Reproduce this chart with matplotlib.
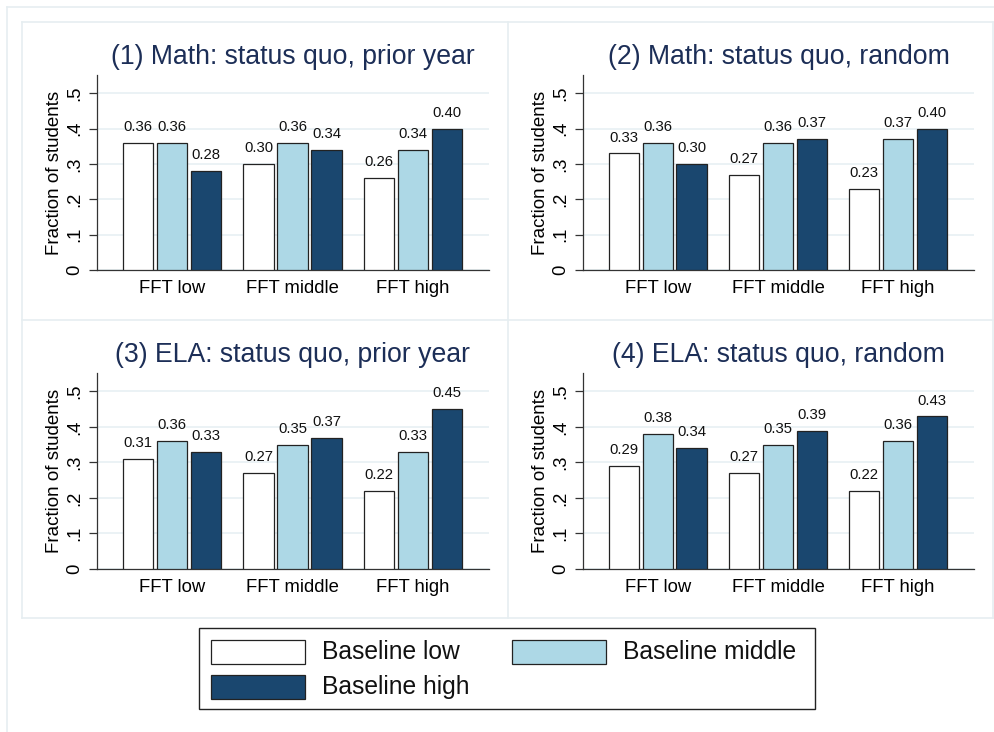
import numpy as np
import matplotlib
matplotlib.use("Agg")
import matplotlib.pyplot as plt
from matplotlib.patches import Rectangle
from matplotlib.lines import Line2D

plt.rcParams['font.family'] = ['Liberation Sans', 'DejaVu Sans']

# data: each list holds the three FFT groups (low, middle, high)
fft_groups = ["FFT low", "FFT middle", "FFT high"]
series_names = ["Baseline low", "Baseline middle", "Baseline high"]

titles = ["(1) Math: status quo, prior year",
          "(2) Math: status quo, random",
          "(3) ELA: status quo, prior year",
          "(4) ELA: status quo, random"]

math_prior_low = [0.36, 0.30, 0.26]
math_prior_mid = [0.36, 0.36, 0.34]
math_prior_high = [0.28, 0.34, 0.40]

math_random_low = [0.33, 0.27, 0.23]
math_random_mid = [0.36, 0.36, 0.37]
math_random_high = [0.30, 0.37, 0.40]

ela_prior_low = [0.31, 0.27, 0.22]
ela_prior_mid = [0.36, 0.35, 0.33]
ela_prior_high = [0.33, 0.37, 0.45]

ela_random_low = [0.29, 0.27, 0.22]
ela_random_mid = [0.38, 0.35, 0.36]
ela_random_high = [0.34, 0.39, 0.43]

panels = [
    (math_prior_low, math_prior_mid, math_prior_high),
    (math_random_low, math_random_mid, math_random_high),
    (ela_prior_low, ela_prior_mid, ela_prior_high),
    (ela_random_low, ela_random_mid, ela_random_high),
]

bar_colors = ["#ffffff", "#add8e6", "#1a476f"]
edge_color = "#222222"
title_color = "#1c2e57"
frame_color = "#e6eef1"
grid_color = "#e8f0f3"

W, H = 995, 732
fig = plt.figure(figsize=(W / 100, H / 100), dpi=100)


def px_rect(x0, y0, x1, y1):
    # pixel box (top-left origin) -> figure fraction rect
    return [x0 / W, 1 - y1 / H, (x1 - x0) / W, (y1 - y0) / H]


def fig_line(xs, ys, **kw):
    fig.add_artist(Line2D([x / W for x in xs], [1 - y / H for y in ys],
                          transform=fig.transFigure, **kw))


# outer frame and panel frames
fig_line([7, 7], [7, 740], color=frame_color, lw=1.2)
fig_line([7, 1000], [7, 7], color=frame_color, lw=1.2)
for x in [22, 508, 993]:
    fig_line([x, x], [22, 618], color=frame_color, lw=1.2)
for y in [22, 320, 618]:
    fig_line([22, 993], [y, y], color=frame_color, lw=1.2)

axes_boxes = [(97, 75, 489, 270), (583, 75, 974, 270),
              (97, 373, 489, 569), (583, 373, 974, 569)]

x = np.arange(len(fft_groups))
pitch = 0.282
width = 0.253

for box, title, vals in zip(axes_boxes, titles, panels):
    ax = fig.add_axes(px_rect(*box))
    for i, (v, c) in enumerate(zip(vals, bar_colors)):
        pos = x + (i - 1) * pitch
        bars = ax.bar(pos, v, width=width, color=c, edgecolor=edge_color,
                      linewidth=0.9, zorder=3)
        for b, val in zip(bars, v):
            ax.annotate(f"{val:.2f}", (b.get_x() + b.get_width() / 2, val),
                        xytext=(0, 8.5), textcoords="offset points",
                        ha="center", va="baseline", fontsize=10.7,
                        color="#111111")
    ax.set_xlim(-0.622, 2.631)
    ax.set_ylim(0, 0.552)
    ax.set_yticks([0, 0.1, 0.2, 0.3, 0.4, 0.5])
    ax.set_yticklabels(["0", ".1", ".2", ".3", ".4", ".5"])
    ax.set_xticks(x)
    ax.set_xticklabels(fft_groups)
    ax.tick_params(axis="x", length=0, pad=7, labelsize=13.3)
    ax.tick_params(axis="y", length=6, width=0.9, color="#333333", pad=4,
                   labelsize=13.3, labelrotation=90)
    for lab in ax.get_yticklabels():
        lab.set_va("center")
    ax.grid(axis="y", color=grid_color, lw=1.2, zorder=0)
    ax.spines["top"].set_visible(False)
    ax.spines["right"].set_visible(False)
    for s in ["left", "bottom"]:
        ax.spines[s].set_color("#333333")
        ax.spines[s].set_linewidth(0.9)
    ax.set_ylabel("Fraction of students", fontsize=13.5, labelpad=2)
    ax.set_title(title, fontsize=19.2, color=title_color, pad=8)

# legend box drawn in pixel space
fig.add_artist(Rectangle((199 / W, 1 - 709 / H), (815 - 199) / W, (709 - 628) / H,
                         transform=fig.transFigure, facecolor="white",
                         edgecolor="#222222", lw=1.0))
legend_slots = [(211, 640), (512, 640), (211, 675)]
for (lx, ly), name, c in zip(legend_slots, series_names, bar_colors):
    fig.add_artist(Rectangle((lx / W, 1 - (ly + 24) / H), 94 / W, 24 / H,
                             transform=fig.transFigure, facecolor=c,
                             edgecolor=edge_color, lw=0.9))
    fig.text((lx + 111) / W, 1 - (ly + 12) / H, name, fontsize=17.7,
             ha="left", va="center", color="#111111")

fig.savefig("out.png", dpi=100)
